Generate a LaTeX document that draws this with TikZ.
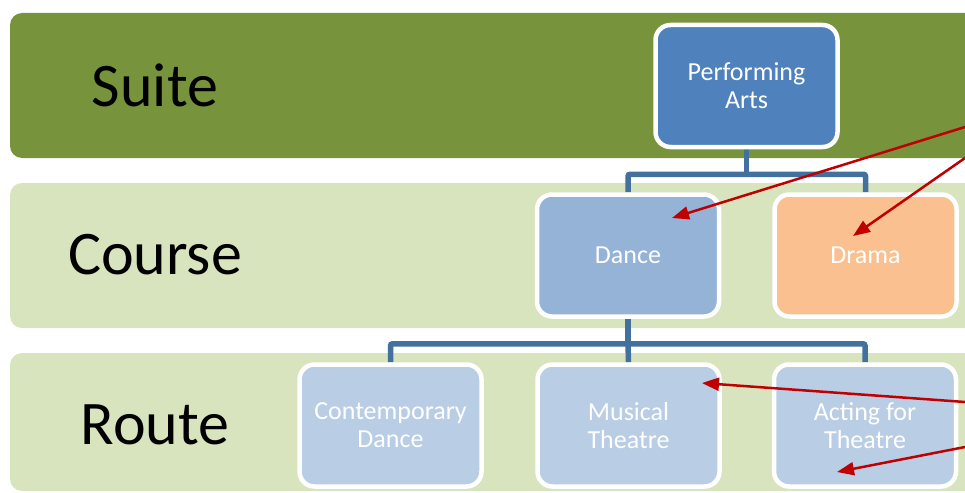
\documentclass[tikz,border=0pt]{standalone}
\usepackage{fontspec}
\setmainfont{Carlito}
\usetikzlibrary{arrows.meta,calc}
\definecolor{suiteg}{HTML}{77933C}
\definecolor{lightg}{HTML}{D7E4BD}
\definecolor{pablue}{HTML}{4F81BD}
\definecolor{dblue}{HTML}{95B3D7}
\definecolor{rblue}{HTML}{B9CDE5}
\definecolor{dorange}{HTML}{FAC090}
\definecolor{connc}{HTML}{41719C}
\definecolor{redar}{HTML}{C00000}
\pgfdeclarelayer{bg}
\pgfsetlayers{bg,main}
\begin{document}
\begin{tikzpicture}[x=1pt,y=-1pt,
  band/.style={rounded corners=12pt},
  box/.style={draw=white, line width=4.5pt, rounded corners=15pt, minimum width=182pt, minimum height=122pt, text=white, font=\fontsize{26}{28}\selectfont, align=center, inner sep=0pt},
  lvl/.style={font=\fontsize{62}{70}\selectfont, text=black},
  connl/.style={draw=connc, line width=5.5pt, rounded corners=2pt},
  redarrow/.style={draw=redar, line width=2.5pt, -{Triangle[length=17pt,width=13pt]}}]
\useasboundingbox (0,0) rectangle (965,492);

\node[lvl] (suite) at (155,85) {Suite};
\node[lvl] (course) at (155,255) {Course};
\node[lvl] (route) at (155,425) {Route};

\node[box, fill=pablue] (pa) at (746.5,86) {Performing\\Arts};
\node[box, fill=dblue] (dance) at (628,255.5) {Dance};
\node[box, fill=dorange] (drama) at (865.5,255.5) {Drama};
\node[box, fill=rblue] (cd) at (390.5,425.5) {Contemporary\\Dance};
\node[box, fill=rblue] (mt) at (628.5,425.5) {Musical\\Theatre};
\node[box, fill=rblue] (at) at (865,425.5) {Acting for\\Theatre};

\begin{pgfonlayer}{bg}
  \begin{scope}
    \clip (0,0) rectangle (965,492);
    \fill[suiteg, band] (10,13) rectangle (1000,158);
    \fill[lightg, band] (10,183) rectangle (1000,328);
    \fill[lightg, band] (10,353) rectangle (1000,491);
  \end{scope}
  \coordinate (j1) at ($(pa.south)+(0,25)$);
  \draw[connl] (pa.south) -- (j1);
  \draw[connl] (dance.north) |- (j1) -| (drama.north);
  \coordinate (j2) at ($(dance.south)+(0,25)$);
  \draw[connl] (dance.south) -- (j2);
  \draw[connl] (cd.north) |- (j2) -| (at.north);
  \draw[connl] (j2) -- (mt.north);
\end{pgfonlayer}

\coordinate (s1) at (965,127);
\coordinate (e1) at (672,218);
\coordinate (s2) at (965,158);
\coordinate (e2) at (853,236);
\coordinate (s3) at (965,402);
\coordinate (e3) at (702,383);
\coordinate (s4) at (965,447);
\coordinate (e4) at (837,472);
\draw[redarrow] (s1) -- (e1);
\draw[redarrow] (s2) -- (e2);
\draw[redarrow] (s3) -- (e3);
\draw[redarrow] (s4) -- (e4);
\end{tikzpicture}
\end{document}
